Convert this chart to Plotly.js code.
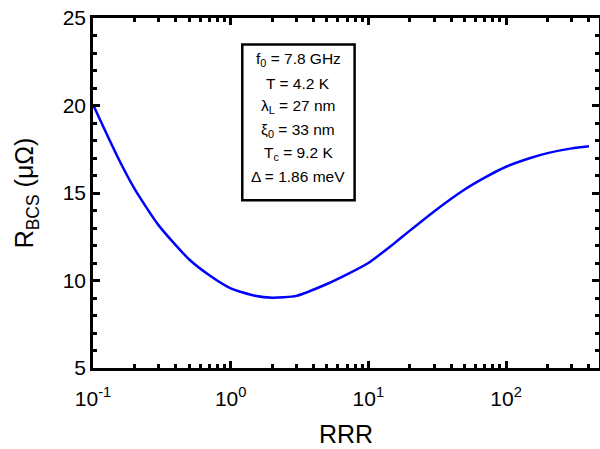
<!DOCTYPE html>
<html>
<head>
<meta charset="utf-8">
<script src="https://cdn.plot.ly/plotly-3.0.1.min.js"></script>
<style>html,body{margin:0;padding:0;background:#fff;}#chart{width:600px;height:449px;}</style>
</head>
<body>
<div id="chart"></div>
<script>
const rrr = [0.1, 0.15, 0.2, 0.3, 0.5, 0.7, 1, 1.5, 2, 3, 5, 7, 10, 15, 20, 30, 50, 70, 100, 150, 200, 300, 400];
const rbcs = [20.05, 17.1, 15.25, 13.15, 11.2, 10.3, 9.55, 9.13, 9.02, 9.12, 9.8, 10.35, 11.0, 12.05, 12.85, 13.95, 15.2, 15.88, 16.5, 17.0, 17.28, 17.55, 17.67];
const xTickVals = [0.1, 1, 10, 100];
const xTickText = ['10<sup>-1</sup>', '10<sup>0</sup>', '10<sup>1</sup>', '10<sup>2</sup>'];
const yTickVals = [5, 10, 15, 20, 25];
const boxLines = ['f<sub>0</sub> = 7.8 GHz', 'T = 4.2 K', 'λ<sub>L</sub> = 27 nm', 'ξ<sub>0</sub> = 33 nm', 'T<sub>c</sub> = 9.2 K', 'Δ = 1.86 meV'];

const font = 'Arial';

const trace = {
  x: rrr, y: rbcs, type: 'scatter', mode: 'lines',
  line: {color: '#0000ff', width: 2.5, shape: 'spline', smoothing: 0.6}, showlegend: false
};

const lineY = [0.881, 0.814, 0.747, 0.680, 0.614, 0.547];
const annotations = boxLines.map((t, i) => ({
  text: t, xref: 'paper', yref: 'paper', x: 0.406, y: lineY[i],
  xanchor: 'center', yanchor: 'middle', showarrow: false,
  font: {family: font, size: 15.5, color: '#000'}
}));

const layout = {
  width: 600, height: 449,
  margin: {l: 93, r: 1, t: 18, b: 81},
  xaxis: {
    type: 'log', range: [-1, 2.675],
    tickvals: xTickVals, ticktext: xTickText,
    ticks: 'inside', ticklen: 7, tickwidth: 2.5, tickcolor: '#000',
    minor: {dtick: 'D1', ticks: 'inside', ticklen: 4, tickwidth: 2.5, tickcolor: '#000'},
    showline: true, linewidth: 2.5, linecolor: '#000', mirror: 'ticks',
    showgrid: false, zeroline: false,
    ticklabelstandoff: 10,
    tickfont: {family: font, size: 21, color: '#000'},
    title: {text: 'RRR', font: {family: font, size: 25, color: '#000'}, standoff: 17}
  },
  yaxis: {
    range: [5, 25],
    tickvals: yTickVals,
    ticks: 'inside', ticklen: 7, tickwidth: 2.5, tickcolor: '#000',
    minor: {dtick: 1, ticks: 'inside', ticklen: 4, tickwidth: 2.5, tickcolor: '#000'},
    showline: true, linewidth: 2.5, linecolor: '#000', mirror: 'ticks',
    showgrid: false, zeroline: false,
    tickfont: {family: font, size: 21, color: '#000'},
    title: {text: 'R<sub>BCS</sub> (μΩ)', font: {family: font, size: 25, color: '#000'}, standoff: 22}
  },
  shapes: [{
    type: 'rect', xref: 'paper', yref: 'paper',
    x0: 0.295, x1: 0.517, y0: 0.479, y1: 0.924,
    line: {color: '#000', width: 2.5}, fillcolor: 'rgba(0,0,0,0)'
  }],
  annotations: annotations
};

Plotly.newPlot('chart', [trace], layout, {displayModeBar: false});
</script>
</body>
</html>
